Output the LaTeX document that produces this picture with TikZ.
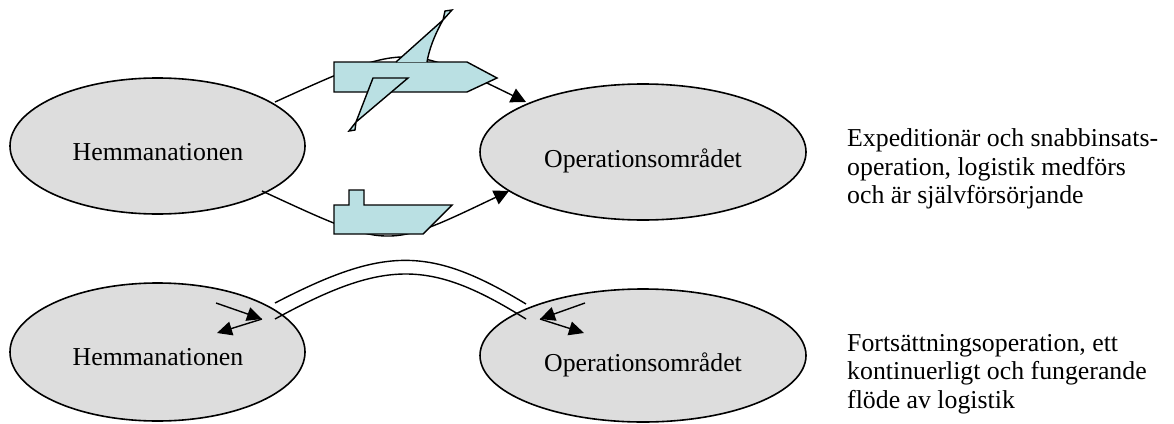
\documentclass[tikz,border=0pt]{standalone}
\usepackage{fontspec}
\setmainfont{Liberation Serif}
\usetikzlibrary{arrows.meta,shapes.geometric}
\definecolor{areagray}{RGB}{221,221,221}
\definecolor{craftblue}{RGB}{186,224,227}
\tikzset{
  area/.style={draw,line width=1.6pt,fill=areagray,ellipse,inner sep=0pt,minimum width=295pt,minimum height=136pt},
  areatext/.style={inner sep=0pt,anchor=base,font=\fontsize{25.8}{28.3}\selectfont},
  craft/.style={draw,line width=1.4pt,fill=craftblue,line join=miter},
  route/.style={line width=1.4pt},
  flow/.style={line width=1.4pt,-{Triangle[length=15pt,width=14pt]}},
  note/.style={align=left,anchor=west,inner sep=0pt,font=\fontsize{25.8}{28.3}\selectfont}
}

\begin{document}
\begin{tikzpicture}[x=1pt,y=-1pt]
      \useasboundingbox (0,0) rectangle (1174,423);

      \node[area] (home1) at (157.5,146) {};
      \node[area,minimum width=326pt] (ops1) at (643,152) {};
      \node[area,minimum height=138pt] (home2) at (157.5,352) {};
      \node[area,minimum width=326pt,minimum height=133pt] (ops2) at (643,355.5) {};

      \node[areatext] (home1text) at (158,160) {Hemmanationen};
      \node[areatext] (ops1text) at (643,167) {Operationsområdet};
      \node[areatext] (home2text) at (158,365) {Hemmanationen};
      \node[areatext] (ops2text) at (643,371) {Operationsområdet};

      \node[note] (text1) at (847,169) {Expeditionär och snabbinsats-\\operation, logistik medförs\\och är självförsörjande};
      \node[note] (text2) at (847,374) {Fortsättningsoperation, ett\\kontinuerligt och fungerande\\flöde av logistik};

      \coordinate (a1) at (275,102);
      \coordinate (a2) at (526,102);
      \coordinate (b1) at (262,191);
      \coordinate (b2) at (509,191);
      \coordinate (c1) at (275,303);
      \coordinate (c2) at (526,304);
      \coordinate (d1) at (275,319);
      \coordinate (d2) at (526,319);

      \draw[route,-{Triangle[length=15pt,width=15pt]}] (a1) .. controls (405,43) and (405,43) .. (a2);
      \draw[route,-{Triangle[length=15pt,width=15pt]}] (b1) .. controls (390,250) and (385,250) .. (b2);
      \draw[route] (c1) .. controls (385,246) and (430,246) .. (c2);
      \draw[route] (d1) .. controls (385,259) and (430,259) .. (d2);

      % plane
      \draw[craft] (334,62) -- (467,62) -- (497,78) -- (467,92) -- (334,92) -- cycle;
      \draw[craft] (396,62) -- (443,20) -- (452,10) -- (445,11) -- (443,20) .. controls (434,36) and (429,50) .. (427,62);
      \draw[craft] (373,78) -- (408,78) -- (356,122) -- (355,130) -- (349,131) -- (356,122) -- cycle;
      % ship
      \draw[craft] (334,205) -- (349,205) -- (349,190) -- (364,190) -- (364,205) -- (452,205) -- (423,234) -- (334,234) -- cycle;

      % flow arrows
      \coordinate (p1) at (216,303);
      \coordinate (p2) at (262,319);
      \coordinate (p3) at (217,333);
      \coordinate (q1) at (585,303);
      \coordinate (q2) at (540,319);
      \coordinate (q3) at (584,333);
      \draw[flow] (p1) -- (p2);
      \draw[flow] (p2) -- (p3);
      \draw[flow] (q1) -- (q2);
      \draw[flow] (q2) -- (q3);
\end{tikzpicture}
\end{document}
